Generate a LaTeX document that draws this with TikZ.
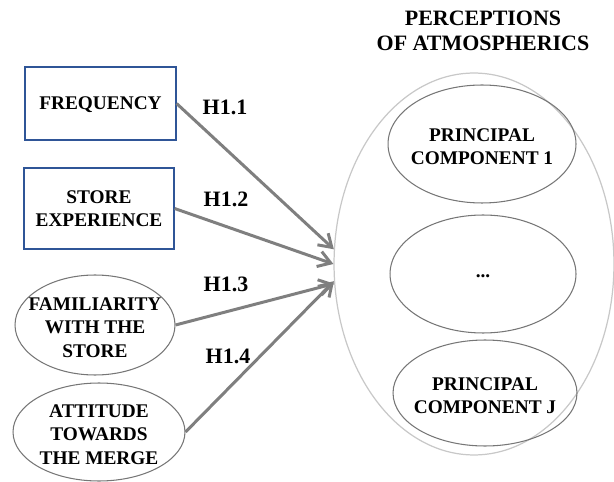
\documentclass[tikz,border=0pt]{standalone}
\usepackage{fontspec}
\setmainfont{Liberation Serif}
\usetikzlibrary{shapes.geometric,positioning,arrows.meta}
\definecolor{boxblue}{HTML}{2F5597}
\definecolor{arrowgray}{HTML}{7F7F7F}
\definecolor{edgegray}{HTML}{767676}
\definecolor{biggray}{HTML}{C8C8C8}
\tikzset{
  varbox/.style={rectangle,draw=boxblue,line width=0.7pt,inner sep=0pt,align=center,font=\fontsize{11}{13}\selectfont\bfseries},
  varell/.style={ellipse,draw=edgegray,line width=0.6pt,inner sep=0pt},
  elltext/.style={align=center,inner sep=0pt,yshift=-1.5pt,font=\fontsize{11}{13.3}\selectfont\bfseries},
  hyp/.style={-{Straight Barb[length=7pt,width=9pt]},draw=arrowgray,line width=1.7pt},
  hlabel/.style={font=\fontsize{12.5}{14}\selectfont\bfseries}
}
\begin{document}
\begin{tikzpicture}[x=0.02cm,y=-0.02cm]
\useasboundingbox (0,0) rectangle (614,482);
% outer construct
\node (atmo) [ellipse,draw=biggray,line width=0.7pt,minimum width=5.6cm,minimum height=7.64cm] at (474,264) {};
\node (title) [align=center,font=\fontsize{12.5}{14.5}\selectfont\bfseries] at (483,31) {PERCEPTIONS\\OF ATMOSPHERICS};
\node (pc1) [varell,minimum width=3.76cm,minimum height=2.36cm,label={[elltext]center:PRINCIPAL\\COMPONENT 1}] at (482,144) {};
\node (pcdots) [varell,minimum width=3.72cm,minimum height=2.36cm,label={[elltext]center:...}] at (483,274) {};
\node (pcj) [varell,minimum width=3.68cm,minimum height=2.12cm,label={[elltext]center:PRINCIPAL\\COMPONENT J}] at (485,393) {};
% antecedents
\node (freq) [varbox,minimum width=3.02cm,minimum height=1.46cm,text depth=-3pt] at (100.5,103.5) {FREQUENCY};
\node (exp) [varbox,minimum width=3cm,minimum height=1.62cm] at (99,208.5) {STORE\\EXPERIENCE};
\node (fam) [varell,minimum width=3.2cm,minimum height=2cm,label={[elltext]center:FAMILIARITY\\WITH THE\\STORE}] at (95,325) {};
\node (att) [varell,minimum width=3.44cm,minimum height=1.96cm,label={[elltext]center:ATTITUDE\\TOWARDS\\THE MERGE}] at (99,432) {};
% hypotheses
\draw [hyp] (freq.east) -- (atmo.174);
\draw [hyp] (exp.east) -- (atmo.180);
\draw [hyp] (fam.east) -- (atmo.188);
\draw [hyp] (att.east) -- (atmo.187);
\node (h11) [hlabel] at (225,107) {H1.1};
\node (h12) [hlabel] at (226,199) {H1.2};
\node (h13) [hlabel] at (226,284) {H1.3};
\node (h14) [hlabel] at (228,356) {H1.4};
\end{tikzpicture}
\end{document}
